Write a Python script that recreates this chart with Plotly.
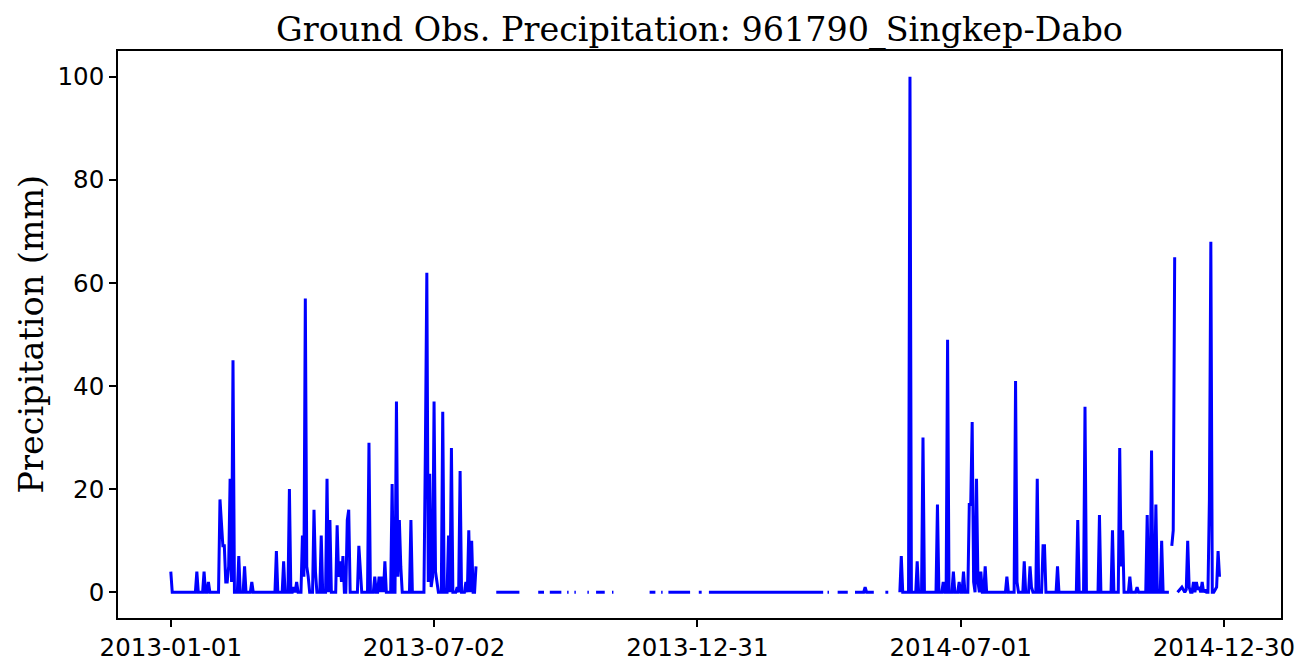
import numpy as np
import pandas as pd
import plotly.graph_objects as go

# ---- data ----
# periods with valid observations (outside them the record is missing)
seg_start = ["2013-01-01", "2013-08-14", "2013-09-12", "2013-09-20", "2013-10-02", "2013-10-07",
             "2013-10-16", "2013-10-22", "2013-11-02", "2013-11-28", "2013-12-06", "2013-12-11",
             "2014-01-01", "2014-01-08", "2014-03-31", "2014-04-07", "2014-04-19", "2014-05-10",
             "2014-05-20", "2014-11-24", "2014-11-28"]
seg_end = ["2013-07-31", "2013-08-30", "2013-09-16", "2013-09-28", "2013-10-03", "2013-10-08",
           "2013-10-17", "2013-10-28", "2013-11-03", "2013-12-02", "2013-12-07", "2013-12-26",
           "2014-01-03", "2014-03-28", "2014-04-01", "2014-04-14", "2014-05-02", "2014-05-12",
           "2014-11-22", "2014-11-26", "2014-12-27"]

# days with non-zero precipitation (mm)
rain_date = [
    "2013-01-01", "2013-01-19", "2013-01-24", "2013-01-27", "2013-02-04", "2013-02-05",
    "2013-02-06", "2013-02-07", "2013-02-08", "2013-02-09", "2013-02-10", "2013-02-11",
    "2013-02-12", "2013-02-13", "2013-02-17", "2013-02-21", "2013-02-26", "2013-03-15",
    "2013-03-20", "2013-03-24", "2013-03-27", "2013-03-29", "2013-04-02", "2013-04-03",
    "2013-04-04", "2013-04-05", "2013-04-06", "2013-04-10", "2013-04-11", "2013-04-15",
    "2013-04-19", "2013-04-21", "2013-04-26", "2013-04-27", "2013-04-28", "2013-04-29",
    "2013-04-30", "2013-05-03", "2013-05-04", "2013-05-11", "2013-05-12", "2013-05-18",
    "2013-05-22", "2013-05-25", "2013-05-27", "2013-05-29", "2013-06-03", "2013-06-06",
    "2013-06-07", "2013-06-08", "2013-06-09", "2013-06-16", "2013-06-26", "2013-06-27",
    "2013-06-28", "2013-06-29", "2013-06-30", "2013-07-01", "2013-07-02", "2013-07-03",
    "2013-07-04", "2013-07-08", "2013-07-12", "2013-07-14", "2013-07-18", "2013-07-20",
    "2013-07-24", "2013-07-26", "2013-07-28", "2013-07-31",
    "2014-04-26", "2014-05-21", "2014-05-27", "2014-06-01", "2014-06-05", "2014-06-15",
    "2014-06-19", "2014-06-22", "2014-06-26", "2014-06-30", "2014-07-03", "2014-07-07",
    "2014-07-08", "2014-07-09", "2014-07-10", "2014-07-12", "2014-07-13", "2014-07-15",
    "2014-07-18", "2014-08-02", "2014-08-08", "2014-08-09", "2014-08-14", "2014-08-18",
    "2014-08-19", "2014-08-23", "2014-08-27", "2014-08-28", "2014-09-06", "2014-09-20",
    "2014-09-25", "2014-10-05", "2014-10-14", "2014-10-19", "2014-10-20", "2014-10-21",
    "2014-10-26", "2014-10-31", "2014-11-07", "2014-11-10", "2014-11-13", "2014-11-17",
    "2014-11-24", "2014-11-25", "2014-11-26", "2014-11-29", "2014-11-30", "2014-12-01",
    "2014-12-02", "2014-12-04", "2014-12-05", "2014-12-06", "2014-12-09", "2014-12-11",
    "2014-12-12", "2014-12-13", "2014-12-15", "2014-12-17", "2014-12-20", "2014-12-21",
    "2014-12-24", "2014-12-25", "2014-12-26", "2014-12-27"]
rain_mm = [
    4, 4, 4, 2, 18, 13,
    9, 9, 2, 2, 5, 22,
    2, 45, 7, 5, 2, 8,
    6, 20, 1, 2, 11, 3,
    57, 5, 3, 16, 4, 11,
    22, 14, 13, 3, 6, 2,
    7, 14, 16, 9, 3, 29,
    3, 3, 3, 6, 21, 37,
    3, 14, 5, 14, 28, 62,
    2, 23, 1, 3, 37, 4,
    2, 35, 11, 28, 1, 23.5,
    2, 12, 10, 5,
    1, 7, 100, 6, 30, 17,
    2, 49, 4, 2, 4, 17,
    17, 33, 2, 22, 2, 4,
    5, 3, 41, 2, 6, 5,
    1, 22, 9, 9, 5, 14,
    36, 15, 12, 28, 5, 12,
    3, 1, 15, 27.5, 17, 10,
    9, 12, 65, 0.3, 0.6, 1,
    0.5, 0.5, 10, 1, 2, 2,
    0.5, 1, 2, 0.5, 18, 68,
    0.5, 1, 8, 3]

tick_dates = ["2013-01-01", "2013-07-02", "2013-12-31", "2014-07-01", "2014-12-30"]
tick_labels = ["2013-01-01", "2013-07-02", "2013-12-31", "2014-07-01", "2014-12-30"]
y_ticks = [0, 20, 40, 60, 80, 100]

station = "961790_Singkep-Dabo"

# ---- build the daily series ----
days = pd.date_range("2013-01-01", "2014-12-27", freq="D")
series = pd.Series(np.nan, index=days)
for a, b in zip(seg_start, seg_end):
    series.loc[a:b] = 0.0
for d, v in zip(rain_date, rain_mm):
    series.loc[d] = v

fig = go.Figure()
fig.add_trace(go.Scatter(
    x=series.index, y=series.values, mode="lines",
    line=dict(color="#0000ff", width=3),
    connectgaps=False, hoverinfo="x+y", showlegend=False))

axis_common = dict(
    showline=True, linecolor="black", linewidth=1.6, mirror=True,
    ticks="outside", ticklen=7, tickwidth=1.6, tickcolor="black",
    showgrid=False, zeroline=False, automargin=False,
    tickfont=dict(family="DejaVu Sans", size=24.5, color="black"),
)

# the page body adds an 8 px margin, so the figure is sized/offset to compensate
fig.update_layout(
    width=1296, height=656,
    margin=dict(l=110, r=23, t=43, b=46, autoexpand=False),
    paper_bgcolor="white", plot_bgcolor="white",
    title=dict(text="Ground Obs. Precipitation: " + station,
               font=dict(family="DejaVu Serif", size=33.4, color="black"),
               x=0.5, xref="paper", xanchor="center",
               y=1, yref="paper", yanchor="bottom", pad=dict(b=10)),
    xaxis=dict(type="date", range=["2012-11-25 12:00", "2015-02-07 12:00"],
               tickmode="array", tickvals=tick_dates, ticktext=tick_labels,
               **axis_common),
    yaxis=dict(range=[-5, 105], tickmode="array", tickvals=y_ticks,
               ticktext=[str(v) for v in y_ticks], **axis_common),
    annotations=[dict(text="Precipitation (mm)", textangle=-90,
                      font=dict(family="DejaVu Serif", size=33.4, color="black"),
                      xref="paper", yref="paper", x=-0.0748, y=0.5,
                      xanchor="center", yanchor="middle", showarrow=False)],
)

fig.write_html("out.html")
